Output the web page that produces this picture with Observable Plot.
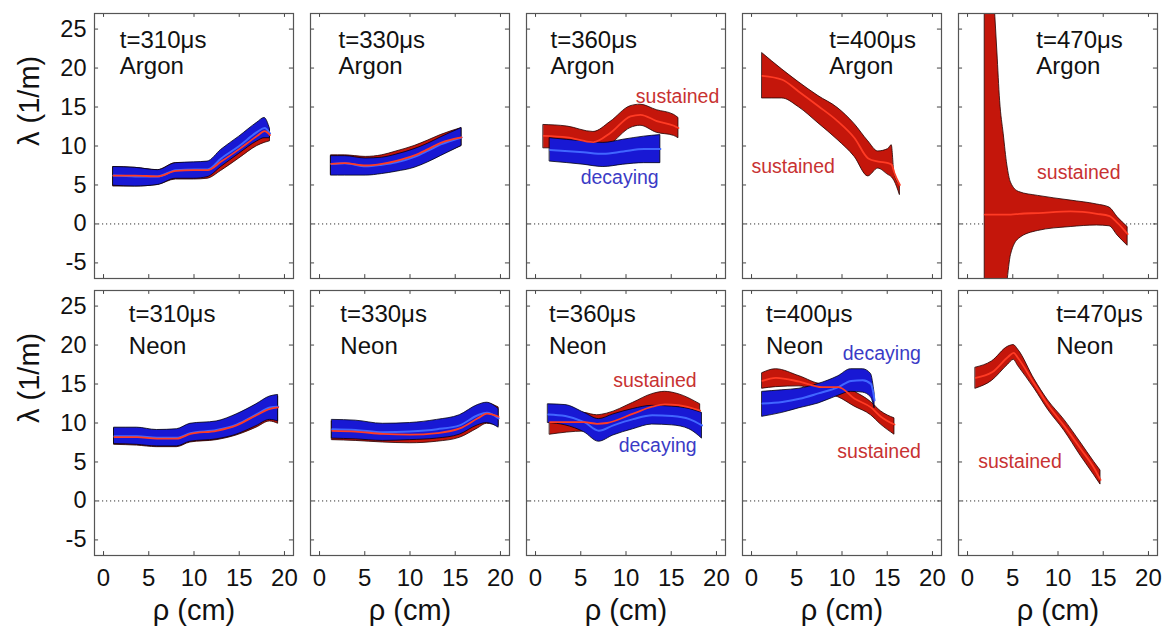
<!DOCTYPE html>
<html><head><meta charset="utf-8">
<script src="https://cdn.jsdelivr.net/npm/d3@7"></script>
<script src="https://cdn.jsdelivr.net/npm/@observablehq/plot@0.6"></script>
<style>
html,body{margin:0;padding:0;background:#fff;}
#chart svg{display:block;}
</style></head><body><div id="chart"></div>
<script>
// ---------- categories & ticks ----------
const times = ["310", "330", "360", "400", "470"];
const gases = ["Argon", "Neon"];
const xTicks = [0, 5, 10, 15, 20];
const yTicks = [-5, 0, 5, 10, 15, 20, 25];
const yTickLabels = ["-5", "0", "5", "10", "15", "20", "25"];
const xLabel = "ρ (cm)";
const yLabel = "λ (1/m)";

// ---------- series (rho, lower, centre, upper) ----------
const ar310dec = {rho:[1.1,3.5,6.0,8.0,10.0,11.5,13.0,15.0,17.0,17.8,18.4],
  lo:[4.9,4.8,5.0,5.8,5.8,6.0,7.3,9.0,10.6,11.0,11.0],
  mid:[6.2,6.1,6.1,6.9,7.0,7.0,8.4,10.0,11.8,12.3,11.6],
  hi:[7.3,7.2,6.9,7.8,7.9,8.0,9.5,11.2,13.0,13.6,12.2]};
const ar310sus = {rho:[1.1,3.5,6.0,8.0,10.0,11.5,13.0,15.0,17.0,17.8,18.4],
  lo:[4.8,4.8,5.0,5.7,5.7,5.8,6.8,8.4,10.0,10.4,10.6],
  mid:[6.2,6.2,6.1,6.8,6.9,6.9,8.0,9.6,11.3,11.9,11.4],
  hi:[7.3,7.2,6.9,7.8,7.8,7.9,9.2,10.9,12.6,13.2,12.0]};
const ar330dec = {rho:[1.3,2.8,5.1,6.9,8.5,10.5,12.0,13.4,15.7],
  lo:[6.2,6.2,6.2,6.4,6.7,7.2,7.9,8.7,10.0],
  mid:[7.7,7.8,7.4,7.6,7.9,8.6,9.4,10.2,11.1],
  hi:[8.7,8.7,8.4,8.5,8.9,9.6,10.3,11.1,12.3]};
const ar330sus = {rho:[1.3,2.8,5.1,6.9,8.5,10.5,12.0,13.4,15.7],
  lo:[6.3,6.3,6.3,6.5,6.8,7.3,8.0,8.8,10.0],
  mid:[7.7,7.8,7.5,7.7,8.1,8.8,9.6,10.4,11.1],
  hi:[8.8,8.8,8.6,8.8,9.3,10.0,10.7,11.4,12.3]};
const ar360sus = {rho:[0.9,3.5,6.4,8.3,10.5,11.6,13.4,15.3,15.8],
  lo:[9.7,9.7,9.2,10.2,12.3,12.6,11.7,11.3,11.0],
  mid:[11.3,11.1,10.5,11.7,13.8,14.0,13.2,12.6,12.3],
  hi:[12.7,12.5,11.8,13.1,15.1,15.3,14.6,14.0,13.6]};
const ar360dec = {rho:[1.6,5.3,7.5,9.7,12.0,13.8],
  lo:[8.0,7.6,7.3,7.6,7.8,7.8],
  mid:[9.5,9.2,9.0,9.3,9.6,9.6],
  hi:[11.0,10.6,10.4,10.8,11.2,11.4]};
const ar400sus = {rho:[1.2,3.4,5.2,7.4,9.5,11.4,12.9,14.0,15.1,15.5,15.8,16.4],
  lo:[16.1,16.1,15.0,12.9,10.8,8.6,6.1,7.1,6.3,6.0,5.5,3.7],
  mid:[19.0,18.5,17.0,15.1,13.2,11.0,8.4,8.0,7.8,7.6,6.5,5.0],
  hi:[21.9,19.8,18.2,16.4,14.9,12.8,10.6,9.3,9.6,10.1,6.5,5.0]};
const ar470sus = {rho:[1.9,2.5,3.0,3.3,3.6,4.0,4.4,4.8,5.7,7.8,11.4,14.3,15.7,16.6,17.7],
  lo:[-40,-30,-22,-18,-15,-11,-7.5,-4.0,-1.9,-0.9,-0.4,-0.2,-0.3,-1.5,-2.8],
  mid:[1.2,1.2,1.2,1.2,1.2,1.2,1.2,1.2,1.3,1.4,1.6,1.3,1.0,0.1,-1.3],
  hi:[45,36,28,22,15.8,11.5,7.5,5.3,4.1,3.6,3.0,2.5,2.1,0.85,-0.4]};
const ne310dec = {rho:[1.2,3.7,5.9,8.1,9.6,12.5,14.7,16.9,18.4,19.3],
  lo:[7.3,7.2,7.0,7.0,7.6,7.9,8.5,9.6,10.4,10.2],
  mid:[8.3,8.3,8.1,8.1,8.7,9.1,9.8,11.1,12.0,12.1],
  hi:[9.4,9.4,9.1,9.2,9.9,10.2,11.1,12.4,13.4,13.6]};
const ne310sus = {rho:[1.2,3.7,5.9,8.1,9.6,12.5,14.7,16.9,18.4,19.3],
  lo:[7.2,7.1,6.9,6.9,7.5,7.8,8.4,9.4,10.2,9.9],
  mid:[8.2,8.2,8.0,8.0,8.6,9.0,9.7,11.0,11.8,12.0],
  hi:[9.3,9.3,9.0,9.1,9.8,10.1,11.0,12.3,13.2,13.4]};
const ne330dec = {rho:[1.4,4.0,7.0,10.0,13.0,15.5,17.5,18.5,19.8],
  lo:[8.0,7.9,7.7,7.8,8.0,8.5,9.7,10.0,9.4],
  mid:[9.2,9.1,8.8,8.9,9.2,9.7,11.0,11.3,10.6],
  hi:[10.4,10.3,9.9,10.0,10.4,11.0,12.3,12.6,11.8]};
const ne330sus = {rho:[1.4,4.0,7.0,10.0,13.0,15.5,17.5,18.5,19.8],
  lo:[7.8,7.7,7.5,7.4,7.6,8.1,9.3,9.9,9.6],
  mid:[9.0,8.9,8.6,8.5,8.7,9.3,10.6,11.2,10.8],
  hi:[10.2,10.1,9.7,9.6,9.8,10.5,11.9,12.5,12.0]};
const ne360sus = {rho:[1.6,5.4,6.8,7.9,10.8,12.9,14.3,15.8,18.2],
  lo:[8.5,8.9,8.8,8.8,9.8,10.5,10.8,10.9,10.6],
  mid:[10.1,10.1,9.9,10.0,11.2,12.1,12.4,12.3,11.6],
  hi:[11.6,11.3,11.0,11.2,12.6,13.7,14.0,13.7,12.4]};
const ne360dec = {rho:[1.4,3.3,5.4,7.0,8.6,10.8,12.9,15.1,17.0,18.4],
  lo:[10.0,9.7,8.8,7.6,8.4,9.2,9.8,9.7,9.2,8.0],
  mid:[11.1,10.9,10.1,9.0,9.7,10.5,11.0,10.9,10.5,9.7],
  hi:[12.4,12.3,11.3,10.5,11.1,11.8,12.2,12.1,11.8,11.3]};
const ne400sus = {rho:[1.2,2.7,5.3,7.8,9.6,11.4,13.2,14.3,15.8],
  lo:[14.4,14.6,14.7,13.8,13.3,12.1,11.0,9.8,8.5],
  mid:[15.4,15.8,15.3,14.6,14.6,13.1,12.0,10.8,9.8],
  hi:[16.4,16.9,16.0,15.0,15.0,14.0,12.7,11.5,10.6]};
const ne400dec = {rho:[1.2,3.4,5.3,7.4,9.6,11.0,12.3,13.2,13.6],
  lo:[10.8,11.3,11.9,12.5,13.5,14.0,13.9,13.3,11.9],
  mid:[12.5,12.7,13.1,13.8,14.6,15.4,15.5,15.0,12.9],
  hi:[14.0,14.2,14.4,15.0,16.0,16.9,16.9,16.3,13.8]};
const ne470sus = {rho:[0.9,2.7,4.5,5.1,5.6,7.4,8.9,10.7,12.5,14.0,14.7],
  lo:[14.4,15.4,17.5,18.1,17.3,14.4,11.7,9.0,5.8,3.3,2.1],
  mid:[15.8,16.5,18.5,19.0,18.3,15.0,12.3,9.6,6.7,4.2,2.7],
  hi:[17.1,17.9,19.8,20.0,19.4,15.6,12.9,10.4,7.5,5.0,3.9]};

const seriesList = [
  ["310","Argon","sustained",ar310sus], ["310","Argon","decaying",ar310dec],
  ["330","Argon","sustained",ar330sus], ["330","Argon","decaying",ar330dec],
  ["360","Argon","sustained",ar360sus], ["360","Argon","decaying",ar360dec],
  ["400","Argon","sustained",ar400sus],
  ["470","Argon","sustained",ar470sus],
  ["310","Neon","sustained",ne310sus], ["310","Neon","decaying",ne310dec],
  ["330","Neon","sustained",ne330sus], ["330","Neon","decaying",ne330dec],
  ["360","Neon","sustained",ne360sus], ["360","Neon","decaying",ne360dec],
  ["400","Neon","sustained",ne400sus], ["400","Neon","decaying",ne400dec],
  ["470","Neon","sustained",ne470sus]
];

// annotation labels (data coordinates)
const annotations = [
  {t:"360", gas:"Argon", kind:"sustained", x:15.7, y:16.3},
  {t:"360", gas:"Argon", kind:"decaying",  x:9.3,  y:5.9},
  {t:"400", gas:"Argon", kind:"sustained", x:4.6,  y:7.3},
  {t:"470", gas:"Argon", kind:"sustained", x:12.3, y:6.6},
  {t:"360", gas:"Neon",  kind:"sustained", x:13.2, y:15.4},
  {t:"360", gas:"Neon",  kind:"decaying",  x:13.5, y:7.1},
  {t:"400", gas:"Neon",  kind:"decaying",  x:14.4, y:18.9},
  {t:"400", gas:"Neon",  kind:"sustained", x:14.1, y:6.3},
  {t:"470", gas:"Neon",  kind:"sustained", x:5.8,  y:5.0}
];

// ---------- build tables ----------
const rows = [];
for (const [t, gas, kind, s] of seriesList) {
  s.rho.forEach((r, i) => rows.push({t, gas, kind, key: t + gas + kind, rho: r, lo: s.lo[i], mid: s.mid[i], hi: s.hi[i]}));
}
const sus = rows.filter(d => d.kind === "sustained");
const dec = rows.filter(d => d.kind === "decaying");

const titleX = {
  Argon: {"310": 1.8, "330": 2.1, "360": 1.65, "400": 8.6, "470": 7.6},
  Neon:  {"310": 2.8, "330": 2.3, "360": 1.5,  "400": 1.6, "470": 9.8}
};
const titleY = {Argon: [22.6, 19.3], Neon: [23.0, 18.9]};
const titles = [];
for (const gas of gases) for (const t of times) titles.push({t, gas});

const xDomain = [-1, 21], yDomain = [-7, 27];
const red = "#c4160b", blue = "#1818d4";
const redLine = "#ff3b24", blueLine = "#4166ff";
const txtRed = "#c83232", txtBlue = "#3b3bc6";

const chart = Plot.plot({
  width: 1163, height: 631,
  marginLeft: 93, marginRight: 4, marginTop: 12, marginBottom: 75,
  style: {fontFamily: "'Liberation Sans', Arial, Helvetica, sans-serif", fontSize: "24px", color: "#111", background: "#fff"},
  x: {domain: xDomain},
  y: {domain: yDomain},
  fx: {domain: times, paddingInner: 0.078, paddingOuter: 0, axis: null},
  fy: {domain: gases, paddingInner: 0.043, paddingOuter: 0, axis: null},
  marks: [
    Plot.ruleY([0], {stroke: "#333", strokeWidth: 1, strokeDasharray: "1.2,2.8"}),
    Plot.areaY(sus, {x: "rho", y1: "lo", y2: "hi", z: "key", fx: "t", fy: "gas", fill: red, stroke: "#200", strokeWidth: 0.8, curve: "monotone-x", clip: true}),
    Plot.areaY(dec, {x: "rho", y1: "lo", y2: "hi", z: "key", fx: "t", fy: "gas", fill: blue, stroke: "#001", strokeWidth: 0.8, curve: "monotone-x", clip: true}),
    Plot.line(dec, {x: "rho", y: "mid", z: "key", fx: "t", fy: "gas", stroke: blueLine, strokeWidth: 2, curve: "monotone-x", clip: true}),
    Plot.line(sus, {x: "rho", y: "mid", z: "key", fx: "t", fy: "gas", stroke: redLine, strokeWidth: 1.8, curve: "monotone-x", clip: true}),
    // inward ticks on all four sides
    Plot.ruleX(xTicks, {x: d => d, y1: yDomain[0], y2: yDomain[0] + 0.5, stroke: "#444"}),
    Plot.ruleX(xTicks, {x: d => d, y1: yDomain[1] - 0.5, y2: yDomain[1], stroke: "#444"}),
    Plot.ruleY(yTicks, {y: d => d, x1: xDomain[0], x2: xDomain[0] + 0.45, stroke: "#444"}),
    Plot.ruleY(yTicks, {y: d => d, x1: xDomain[1] - 0.45, x2: xDomain[1], stroke: "#444"}),
    Plot.frame({stroke: "#555", strokeWidth: 1.2}),
    Plot.axisX({ticks: xTicks, tickSize: 0, tickPadding: 13, fontSize: 24, label: null, tickFormat: d => String(d)}),
    Plot.axisY({ticks: yTicks, tickSize: 0, tickPadding: 8, fontSize: 23.5, label: null, tickFormat: d => yTickLabels[yTicks.indexOf(d)]}),
    // panel titles
    Plot.text(titles, {fx: "t", fy: "gas", x: d => titleX[d.gas][d.t], y: d => titleY[d.gas][0], text: d => `t=${d.t}μs`, textAnchor: "start", lineAnchor: "bottom", fontSize: 24, fill: "#111"}),
    Plot.text(titles, {fx: "t", fy: "gas", x: d => titleX[d.gas][d.t], y: d => titleY[d.gas][1], text: d => d.gas, textAnchor: "start", lineAnchor: "bottom", fontSize: 24, fill: "#111"}),
    // band annotations
    Plot.text(annotations, {fx: "t", fy: "gas", x: "x", y: "y", text: "kind", fontSize: 19.5, lineAnchor: "middle", fill: d => d.kind === "sustained" ? txtRed : txtBlue}),
    // axis titles
    Plot.text(times.map(t => ({t, gas: "Neon"})), {fx: "t", fy: "gas", frameAnchor: "bottom", dy: 55, text: () => xLabel, fontSize: 29, lineAnchor: "middle", fill: "#111"}),
    Plot.text(gases.map(g => ({t: "310", gas: g})), {fx: "t", fy: "gas", frameAnchor: "left", dx: -65, rotate: -90, text: () => yLabel, fontSize: 29, lineAnchor: "middle", fill: "#111"})
  ]
});
document.getElementById("chart").appendChild(chart);
</script>
</body></html>
